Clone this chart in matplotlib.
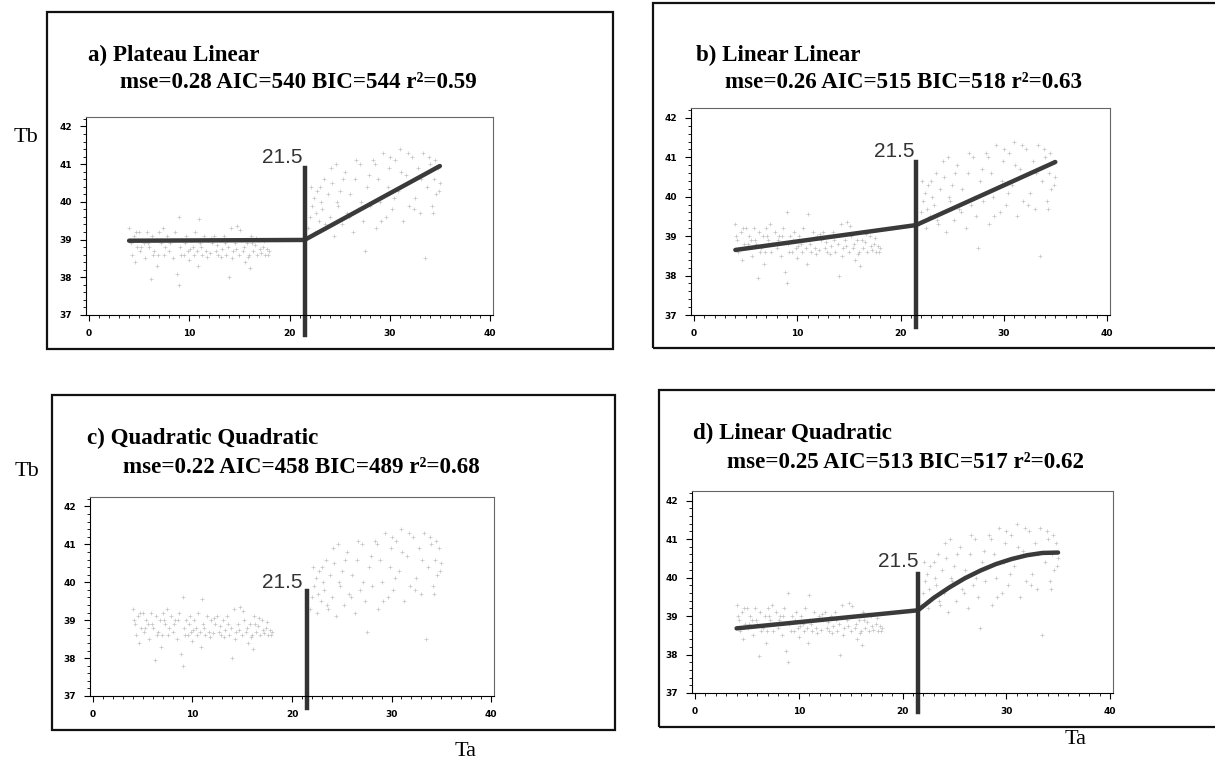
import matplotlib
matplotlib.use("Agg")
import matplotlib.pyplot as plt
from matplotlib.patches import Rectangle
from matplotlib.ticker import MultipleLocator

ta = [4.0, 4.2, 4.3, 4.5, 4.6, 4.8, 5.0, 5.1, 5.3, 5.5, 5.6, 5.8, 6.0, 6.2, 6.3, 6.5,
      6.7, 6.9, 7.0, 7.2, 7.4, 7.6, 7.8, 8.0, 8.2, 8.4, 8.6, 8.8, 9.0, 9.0, 9.1, 9.3,
      9.5, 9.7, 9.9, 10.0, 10.2, 10.4, 10.6, 10.8, 11.0, 11.1, 11.3, 11.5, 11.7, 11.9,
      12.1, 12.3, 12.5, 12.7, 12.9, 13.1, 13.3, 13.5, 13.7, 13.9, 14.0, 14.2, 14.4,
      14.6, 14.8, 15.0, 15.2, 15.4, 15.6, 15.8, 16.0, 16.2, 16.4, 16.6, 16.8, 17.0,
      17.2, 17.4, 17.6, 17.8, 18.0,
      4.1, 4.7, 5.2, 5.9, 6.4, 7.1, 7.5, 8.1, 8.5, 9.2, 9.6, 10.1, 10.5, 11.2, 11.8,
      12.2, 12.8, 13.2, 13.6, 14.3, 14.7, 15.1, 15.5, 15.9, 16.3, 16.7, 17.1, 17.5,
      17.9, 6.8, 10.9, 16.1,
      21.8, 22.0, 22.2, 22.4, 22.5, 22.7, 22.9, 23.0, 23.2, 23.4, 23.6, 23.8, 24.0,
      24.2, 24.4, 24.6, 24.8, 25.0, 25.2, 25.5, 25.7, 26.0, 26.3, 26.5, 26.8, 27.0,
      27.3, 27.5, 27.7, 28.0, 28.3, 28.6, 28.8, 29.0, 29.3, 29.6, 29.9, 30.2, 30.5,
      30.8, 31.0, 31.3, 31.6, 31.9, 32.2, 32.5, 32.8, 33.0, 33.3, 33.5, 33.7, 34.0,
      34.2, 34.4, 34.6, 34.8, 35.0,
      22.1, 22.6, 23.1, 23.5, 24.1, 24.7, 25.3, 25.9, 26.6, 27.1, 27.9, 28.5, 29.1,
      29.8, 30.4, 31.1, 31.8, 32.4, 33.1, 33.9, 34.5, 34.9, 34.3, 30.0]
tb = [39.3, 38.9, 38.6, 39.1, 38.4, 38.8, 39.2, 38.7, 39.0, 38.9, 38.5, 39.2, 38.8,
      37.95, 39.1, 38.7, 39.0, 38.6, 39.2, 38.9, 39.3, 38.8, 39.1, 38.7, 39.0, 38.5,
      39.2, 38.1, 37.8, 39.6, 38.8, 39.0, 38.6, 39.1, 38.7, 38.45, 39.0, 38.8, 39.2,
      38.7, 39.55, 38.9, 38.6, 39.1, 38.7, 39.0, 38.65, 38.9, 39.1, 38.7, 38.6, 39.0,
      38.75, 39.1, 38.6, 38.8, 38.0, 39.3, 38.7, 38.9, 39.35, 38.6, 39.0, 38.7, 38.4,
      38.9, 38.6, 39.1, 38.7, 38.85, 38.6, 39.0, 38.65, 38.8, 38.6, 38.75, 38.7,
      39.0, 39.2, 38.8, 38.9, 38.6, 39.0, 38.6, 38.9, 39.0, 38.6, 38.9, 38.75, 38.6,
      38.8, 38.55, 39.05, 38.85, 38.55, 38.9, 38.5, 38.75, 39.25, 38.8, 38.55, 38.9,
      39.05, 38.75, 38.95, 38.6, 38.3, 38.3, 38.25,
      39.3, 39.6, 39.9, 40.1, 39.2, 40.3, 39.5, 40.4, 39.8, 40.6, 39.3, 40.2, 39.6,
      40.5, 39.1, 41.0, 39.9, 40.3, 39.4, 40.8, 39.7, 40.2, 39.2, 40.6, 39.8, 41.0,
      39.5, 38.7, 40.4, 39.9, 41.1, 39.3, 40.6, 40.0, 41.3, 39.6, 40.9, 39.8, 41.1,
      40.3, 41.4, 39.5, 40.7, 39.9, 41.2, 40.1, 40.9, 39.7, 41.3, 38.5, 40.4, 41.0,
      39.9, 40.6, 40.2, 40.9, 40.5,
      40.4, 39.7, 40.0, 39.4, 40.9, 40.0, 40.6, 39.6, 41.1, 40.0, 40.7, 41.0, 39.5,
      40.4, 40.1, 40.8, 41.3, 39.8, 40.6, 41.2, 41.1, 40.3, 39.7, 41.2]

breakpoint_ta = 21.5

# fitted curves
fit_a_x = [4.0, 21.5, 35.0]
fit_a_y = [38.97, 38.99, 40.95]
fit_b_x = [4.0, 21.5, 35.0]
fit_b_y = [38.65, 39.28, 40.88]
fit_d_x = [4.0, 21.5, 23.0, 24.5, 26.0, 27.5, 29.0, 30.5, 32.0, 33.5, 35.0]
fit_d_y = [38.68, 39.15, 39.47, 39.74, 39.98, 40.18, 40.35, 40.48, 40.58, 40.64, 40.65]

titles = ["a) Plateau Linear", "b) Linear Linear",
          "c) Quadratic Quadratic", "d) Linear Quadratic"]
stats = ["mse=0.28 AIC=540 BIC=544 r\u00b2=0.59",
         "mse=0.26 AIC=515 BIC=518 r\u00b2=0.63",
         "mse=0.22 AIC=458 BIC=489 r\u00b2=0.68",
         "mse=0.25 AIC=513 BIC=517 r\u00b2=0.62"]

W, H = 1215, 765
fig = plt.figure(figsize=(W / 100, H / 100), dpi=100)


def px(x, y):
    # pixel position (from top-left) -> figure fraction
    return x / W, 1 - y / H


# panel layout in pixels: axes (left, top, right, bottom), box, title lines
panels = [
    dict(ax=(86, 117, 493, 315), box=(47, 12, 613, 349), t1=(88, 55), t2=(120, 82),
         fit=(fit_a_x, fit_a_y), vline=(36.47, 40.9), lab=(21.3, 41.18)),
    dict(ax=(691, 108, 1110, 315), box=(653, 3, 1230, 348), t1=(696, 55), t2=(725, 82),
         fit=(fit_b_x, fit_b_y), vline=(36.7, 40.88), lab=(21.35, 41.14)),
    dict(ax=(90, 497, 494, 696), box=(52, 395, 615, 730), t1=(87, 438), t2=(123, 467),
         fit=None, vline=(36.68, 39.77), lab=(21.1, 40.0)),
    dict(ax=(692, 491, 1113, 693), box=(659, 390, 1230, 727), t1=(693, 433), t2=(727, 462),
         fit=(fit_d_x, fit_d_y), vline=(36.5, 40.09), lab=(21.5, 40.43)),
]

for i, p in enumerate(panels):
    # outer frame
    bx0, by0, bx1, by1 = p["box"]
    fig.add_artist(Rectangle(px(bx0, by1), (bx1 - bx0) / W, (by1 - by0) / H,
                             transform=fig.transFigure, fill=False,
                             edgecolor="#111111", linewidth=1.6))

    fig.text(*px(*p["t1"]), titles[i], family="Liberation Serif", weight="bold",
             fontsize=16.6, va="center", ha="left")
    fig.text(*px(*p["t2"]), stats[i], family="Liberation Serif", weight="bold",
             fontsize=16.6, va="center", ha="left")

    l, t, r, b = p["ax"]
    ax = fig.add_axes([l / W, 1 - b / H, (r - l) / W, (b - t) / H])
    ax.set_xlim(-0.3, 40.3)
    ax.set_ylim(37, 42.25)

    ax.plot(ta, tb, linestyle="none", marker="+", markersize=3,
            markeredgewidth=0.5, color="#c4c4c4")

    if p["fit"] is not None:
        ax.plot(p["fit"][0], p["fit"][1], color="#3a3a3a", linewidth=3.2,
                solid_capstyle="round")

    ax.plot([breakpoint_ta, breakpoint_ta], p["vline"], color="#333333",
            linewidth=3.2, clip_on=False)
    ax.text(p["lab"][0], p["lab"][1], "21.5", family="Liberation Sans",
            fontsize=15, color="#333333", ha="right", va="center")

    ax.xaxis.set_major_locator(MultipleLocator(10))
    ax.xaxis.set_minor_locator(MultipleLocator(1))
    ax.yaxis.set_major_locator(MultipleLocator(1))
    ax.yaxis.set_minor_locator(MultipleLocator(0.2))
    ax.tick_params(which="major", length=4, width=0.8, labelsize=6.5, pad=6)
    ax.tick_params(which="minor", length=2.5, width=0.6)
    for lbl in ax.get_xticklabels() + ax.get_yticklabels():
        lbl.set_fontweight("bold")
    for s in ax.spines.values():
        s.set_linewidth(0.8)
    ax.spines["top"].set_color("#666666")
    ax.spines["right"].set_color("#666666")

# axis names
fig.text(*px(26, 137), "Tb", family="Liberation Serif", fontsize=16, ha="center", va="center")
fig.text(*px(27, 472), "Tb", family="Liberation Serif", fontsize=16, ha="center", va="center")
fig.text(*px(466, 752), "Ta", family="Liberation Serif", fontsize=16, ha="center", va="center")
fig.text(*px(1076, 740), "Ta", family="Liberation Serif", fontsize=16, ha="center", va="center")

fig.savefig("out.png", dpi=100)
